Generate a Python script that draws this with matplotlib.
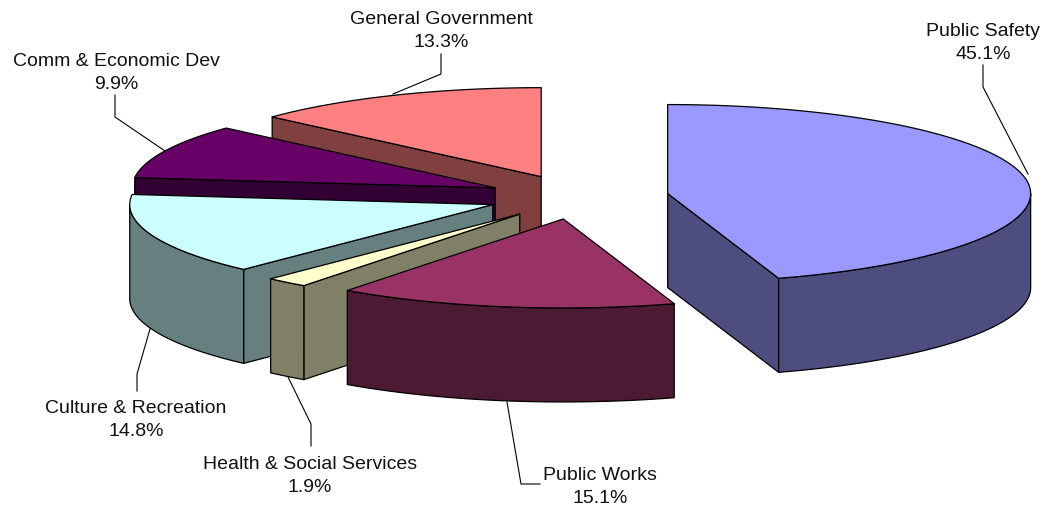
import numpy as np
import matplotlib
matplotlib.use('Agg')
import matplotlib.pyplot as plt
from matplotlib.patches import Polygon

plt.rcParams['font.family'] = ['Liberation Sans', 'DejaVu Sans']

# Percentages, clockwise from 12 o'clock
categories = ['Public Safety', 'Public Works', 'Health & Social Services',
              'Culture & Recreation', 'Comm & Economic Dev', 'General Government']
shares = [45.1, 15.1, 1.9, 14.8, 9.9, 13.3]
top_colors = ['#9999FF', '#993366', '#FFFFCC', '#CCFFFF', '#660066', '#FF8080']
side_colors = ['#4D4D80', '#4D1A33', '#808066', '#668080', '#330033', '#804040']

# Pie geometry, in pixels
cx, cy = 578, 198
rx, ry = 363, 89
depth = 94
explode = 0.25

# Label text centres and leader line paths
label_pos = [(983, 43), (600, 487), (310, 476), (136, 420), (116, 73), (441, 31)]
leaders = [
    [(983, 66), (983, 88), (1028, 175)],
    [(507, 403), (521, 485), (540, 485)],
    [(288, 378), (311, 425), (311, 447)],
    [(150, 330), (137, 375), (137, 392)],
    [(115, 96), (115, 118), (165, 152)],
    [(441, 55), (441, 75), (393, 95)],
]


def rim(center, deg):
    t = np.radians(deg)
    return center[0] + rx * np.sin(t), center[1] - ry * np.cos(t)


def add_face(ax, pts, color):
    ax.add_patch(Polygon(pts, closed=True, facecolor=color, edgecolor='black',
                         linewidth=0.9, joinstyle='round'))


def draw_slice(ax, start, end, top, side):
    mid = (start + end) / 2
    apex = rim((cx, cy), mid)
    apex = (cx + (apex[0] - cx) * explode, cy + (apex[1] - cy) * explode)
    drop = lambda p: (p[0], p[1] + depth)

    # Cut faces only show when they look towards the viewer
    if np.sin(np.radians(start)) < 0:
        p = rim(apex, start)
        add_face(ax, [apex, p, drop(p), drop(apex)], side)
    if np.sin(np.radians(end)) > 0:
        p = rim(apex, end)
        add_face(ax, [apex, p, drop(p), drop(apex)], side)

    # Outer wall, front half of the rim only
    w0, w1 = max(start, 90), min(end, 270)
    if w1 > w0:
        arc = [rim(apex, a) for a in np.linspace(w0, w1, 80)]
        add_face(ax, arc + [drop(p) for p in arc[::-1]], side)

    arc = [rim(apex, a) for a in np.linspace(start, end, 160)]
    add_face(ax, [apex] + arc, top)


fig = plt.figure(figsize=(10.43, 5.06), dpi=100)
ax = fig.add_axes([0, 0, 1, 1])
ax.set_xlim(0, 1043)
ax.set_ylim(506, 0)
ax.axis('off')

bounds = np.cumsum([0] + shares) / sum(shares) * 360

# Back to front: General Government first, Public Safety last
for i in range(len(shares) - 1, -1, -1):
    draw_slice(ax, bounds[i], bounds[i + 1], top_colors[i], side_colors[i])

for name, share, pos, path in zip(categories, shares, label_pos, leaders):
    xs, ys = zip(*path)
    ax.plot(xs, ys, color='black', linewidth=0.8)
    ax.text(pos[0], pos[1], f'{name}\n{share}%', ha='center', va='center',
            fontsize=14, color='#111111', linespacing=1.45)

plt.savefig('out.png', dpi=100)
